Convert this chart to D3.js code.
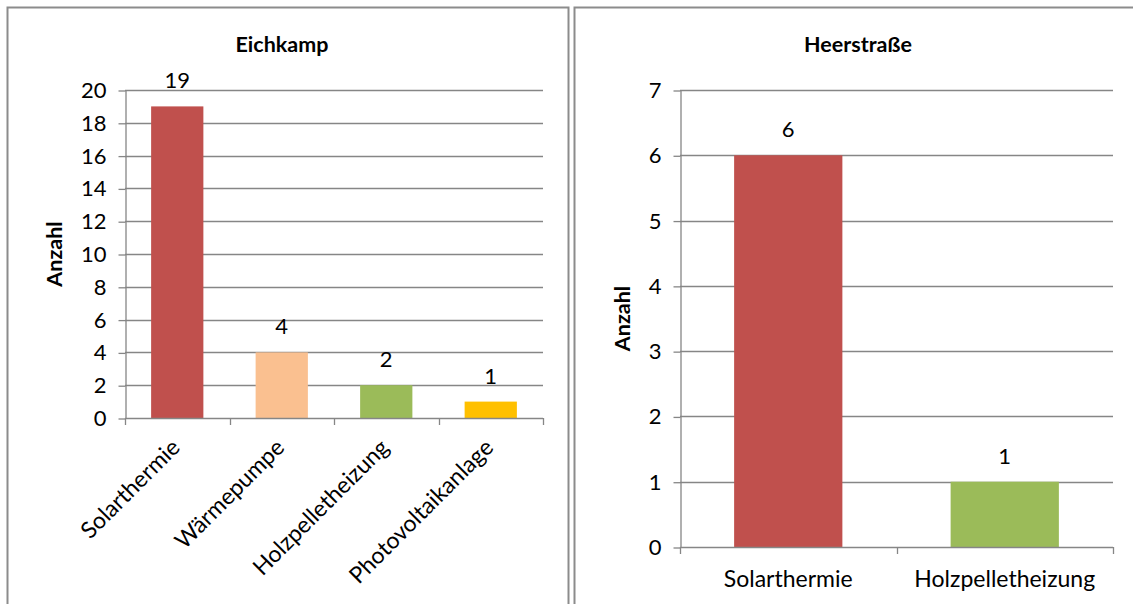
<!DOCTYPE html>
<html>
<head>
<meta charset="utf-8">
<script src="https://cdn.jsdelivr.net/npm/d3@7"></script>
<style>
  html, body { margin: 0; padding: 0; background: #fff; }
  svg { display: block; font-family: Lato, "Open Sans", sans-serif; }
</style>
</head>
<body>
<svg id="chart" width="1133" height="604"></svg>
<script>
// Eichkamp
const eichkampCategories = ["Solarthermie", "Wärmepumpe", "Holzpelletheizung", "Photovoltaikanlage"];
const eichkampValues = [19, 4, 2, 1];
const eichkampColors = ["#C0504D", "#FAC090", "#9BBB59", "#FFC000"];
const eichkampTicks = [0, 2, 4, 6, 8, 10, 12, 14, 16, 18, 20];

// Heerstraße
const heerCategories = ["Solarthermie", "Holzpelletheizung"];
const heerValues = [6, 1];
const heerColors = ["#C0504D", "#9BBB59"];
const heerTicks = [0, 1, 2, 3, 4, 5, 6, 7];

const svg = d3.select("#chart");
const gridColor = "#868686";
const borderColor = "#8c8c8c";
const fontFamily = "Lato, 'Open Sans', sans-serif";

// panel frames
svg.append("rect").attr("x", 7.5).attr("y", 7.5).attr("width", 561).attr("height", 610)
  .attr("fill", "none").attr("stroke", borderColor).attr("stroke-width", 2);
svg.append("rect").attr("x", 574.5).attr("y", 7.5).attr("width", 570).attr("height", 610)
  .attr("fill", "none").attr("stroke", borderColor).attr("stroke-width", 2);

function drawPanel(opt) {
  const { title, categories, values, colors, ticks, yMax, left, right, top, bottom,
          titleX, axisTitleX, rotate } = opt;
  const g = svg.append("g");

  const x = d3.scaleBand().domain(categories).range([left, right]).paddingInner(0.5).paddingOuter(0.25);
  const y = d3.scaleLinear().domain([0, yMax]).range([bottom, top]);

  // horizontal gridlines
  g.append("g").selectAll("line").data(ticks.filter(t => t > 0)).join("line")
    .attr("x1", left).attr("x2", right)
    .attr("y1", d => Math.round(y(d)) + 0.5).attr("y2", d => Math.round(y(d)) + 0.5)
    .attr("stroke", gridColor).attr("stroke-width", 1.3);

  // y axis
  const yAxis = d3.axisLeft(y).tickValues(ticks).tickFormat(d3.format("d"))
    .tickSize(7).tickPadding(12).tickSizeOuter(0);
  const ya = g.append("g").attr("transform", `translate(${left + 0.5},0.5)`).call(yAxis);
  ya.attr("font-family", fontFamily).attr("font-size", 22);
  ya.select(".domain").attr("stroke", gridColor).attr("stroke-width", 1.3);
  ya.selectAll(".tick line").attr("stroke", gridColor).attr("stroke-width", 1.3);
  ya.selectAll(".tick text").attr("fill", "#000");

  // bars
  g.append("g").selectAll("rect").data(values).join("rect")
    .attr("x", (d, i) => x(categories[i]))
    .attr("width", x.bandwidth())
    .attr("y", d => y(d))
    .attr("height", d => y(0) - y(d))
    .attr("fill", (d, i) => colors[i]);

  // x axis line and boundary ticks
  const bounds = d3.range(categories.length + 1).map(i => left + i * x.step());
  g.append("line").attr("x1", left).attr("x2", right)
    .attr("y1", Math.round(bottom) + 0.5).attr("y2", Math.round(bottom) + 0.5)
    .attr("stroke", gridColor).attr("stroke-width", 1.3);
  g.append("g").selectAll("line").data(bounds).join("line")
    .attr("x1", d => Math.round(d) + 0.5).attr("x2", d => Math.round(d) + 0.5)
    .attr("y1", bottom).attr("y2", bottom + 7)
    .attr("stroke", gridColor).attr("stroke-width", 1.3);

  // value labels
  g.append("g").selectAll("text").data(values).join("text")
    .attr("x", (d, i) => x(categories[i]) + x.bandwidth() / 2)
    .attr("y", d => y(d) - 18)
    .attr("text-anchor", "middle").attr("font-size", 22).attr("fill", "#000")
    .text(d => d);

  // category labels
  const cl = g.append("g").selectAll("text").data(categories).join("text")
    .attr("font-size", 23).attr("fill", "#000").text(d => d);
  if (rotate) {
    cl.attr("text-anchor", "end")
      .attr("transform", d => `translate(${x(d) + x.bandwidth() / 2 + 4},${bottom + 31}) rotate(-45)`);
  } else {
    cl.attr("text-anchor", "middle")
      .attr("x", d => x(d) + x.bandwidth() / 2)
      .attr("y", bottom + 40);
  }

  // chart title
  g.append("text").attr("x", titleX).attr("y", 52).attr("text-anchor", "middle")
    .attr("font-size", 21.5).attr("font-weight", "bold").attr("fill", "#000").text(title);

  // axis title
  g.append("text")
    .attr("transform", `translate(${axisTitleX},${(top + bottom) / 2}) rotate(-90)`)
    .attr("text-anchor", "middle").attr("font-size", 21.5).attr("font-weight", "bold")
    .attr("fill", "#000").text("Anzahl");
}

drawPanel({
  title: "Eichkamp", categories: eichkampCategories, values: eichkampValues,
  colors: eichkampColors, ticks: eichkampTicks, yMax: 20,
  left: 125, right: 543, top: 90, bottom: 418, titleX: 282, axisTitleX: 62, rotate: true
});

drawPanel({
  title: "Heerstraße", categories: heerCategories, values: heerValues,
  colors: heerColors, ticks: heerTicks, yMax: 7,
  left: 680, right: 1113, top: 90, bottom: 547, titleX: 858, axisTitleX: 630, rotate: false
});
</script>
</body>
</html>
